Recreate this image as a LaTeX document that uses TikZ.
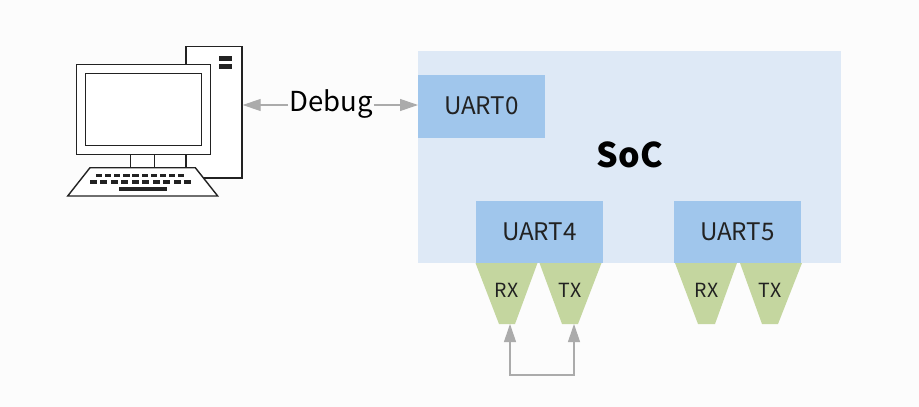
\documentclass[tikz,border=0pt]{standalone}
\usepackage{fontspec}
\setmainfont{Noto Sans CJK SC}
\usetikzlibrary{arrows.meta}
\definecolor{bgc}{HTML}{FCFCFC}
\definecolor{socc}{HTML}{DEE9F6}
\definecolor{uartc}{HTML}{A0C6EC}
\definecolor{pinc}{HTML}{C4D69F}
\definecolor{linec}{HTML}{ABABAB}
\definecolor{inkc}{HTML}{222222}
\tikzset{
  x=1pt,y=-1pt,
  box/.style={draw=none,fill=#1,inner sep=0pt,outer sep=0pt,anchor=north west},
  uart/.style={box=uartc,minimum width=127pt,minimum height=62.5pt,font=\fontsize{24.2}{26}\selectfont,text=inkc},
  pinlabel/.style={inner sep=0pt,outer sep=0pt,font=\fontsize{19.5}{21}\selectfont,text=inkc},
  pc/.style={draw=inkc,line width=1.4pt,line join=miter},
  keyk/.style={draw=none,fill=inkc},
  linkhead/.tip={Triangle[length=18pt,width=12pt,fill=linec]},
  link/.style={draw=linec,line width=1.1pt,-linkhead},
  pinfill/.style={fill=pinc,draw=none},
}
\newcommand{\keyrow}[5]{% x-start, y-top, key width, gap, count
  \foreach \i in {1,...,#5}{
    \fill[keyk] ({#1+(\i-1)*(#3+#4)},#2) rectangle ++(#3,3.8);
  }
}
\begin{document}
\begin{tikzpicture}
\useasboundingbox (0,0) rectangle (919,407);
\fill[bgc] (0,0) rectangle (919,407);
% SoC
\node[box=socc,minimum width=423pt,minimum height=212pt] (soc) at (418,51) {};
\node[inner sep=0pt,font=\fontsize{34}{36}\selectfont\bfseries,text=black] (soclabel) at (630,155) {SoC};
\node[uart] (u0) at (418,75) {UART0};
% pins
\fill[pinfill] (475.5,263) -- (537.5,263) -- (515,324) -- (499,324) -- cycle;
\fill[pinfill] (539.5,263) -- (601.5,263) -- (578,324) -- (562,324) -- cycle;
\fill[pinfill] (675,263) -- (737,263) -- (715,324) -- (698,324) -- cycle;
\fill[pinfill] (740,263) -- (802,263) -- (778,324) -- (762,324) -- cycle;
\node[uart] (u4) at (476,200.5) {UART4};
\node[uart] (u5) at (674,200.5) {UART5};
\node[pinlabel] (rx4) at (506.5,290) {RX};
\node[pinlabel] (tx4) at (570,290) {TX};
\node[pinlabel] (rx5) at (706.5,290) {RX};
\node[pinlabel] (tx5) at (770,290) {TX};
\coordinate (rx4tip) at (510,324);
\coordinate (tx4tip) at (574,324);
\coordinate (loopa) at (510,375);
\coordinate (loopb) at (574,375);
\draw[link,linkhead-linkhead] (rx4tip) -- (loopa) -- (loopb) -- (tx4tip);
% computer
\node[box=white,draw=inkc,line width=1.4pt,minimum width=56pt,minimum height=131.7pt] (tower) at (186,46.3) {};
\fill[keyk] (219.3,56) rectangle (231.7,61.3);
\fill[keyk] (219.3,64.3) rectangle (231.7,69.3);
\fill[white] (131,154.7) rectangle (186,167.7);
\draw[pc] (130.3,154.7) -- (130.3,167.7) (154.7,154.7) -- (154.7,167.7) (186,154.7) -- (186,167.7);
\node[box=white,draw=inkc,line width=1.4pt,minimum width=134pt,minimum height=90.4pt] (monitor) at (76.7,64.3) {};
\node[box=white,draw=inkc,line width=1.4pt,minimum width=116pt,minimum height=72pt] (screen) at (85.7,73.3) {};
\filldraw[pc,fill=white] (90,167.7) -- (195.3,167.7) -- (217.7,196) -- (67.7,196) -- cycle;
\keyrow{96}{173.5}{6.2}{2.9}{10}
\keyrow{89.5}{180}{7.2}{3.3}{10}
\fill[keyk] (118.5,186.5) rectangle (166.5,190.5);
% debug
\node[fill=bgc,inner sep=1pt,font=\fontsize{27.5}{30}\selectfont,text=black] (debug) at (331,104) {Debug};
\coordinate (towerport) at (242.7,105);
\coordinate (uartport) at (418,105);
\draw[link] (debug.west |- towerport) -- (towerport);
\draw[link] (debug.east |- uartport) -- (uartport);
\end{tikzpicture}
\end{document}
